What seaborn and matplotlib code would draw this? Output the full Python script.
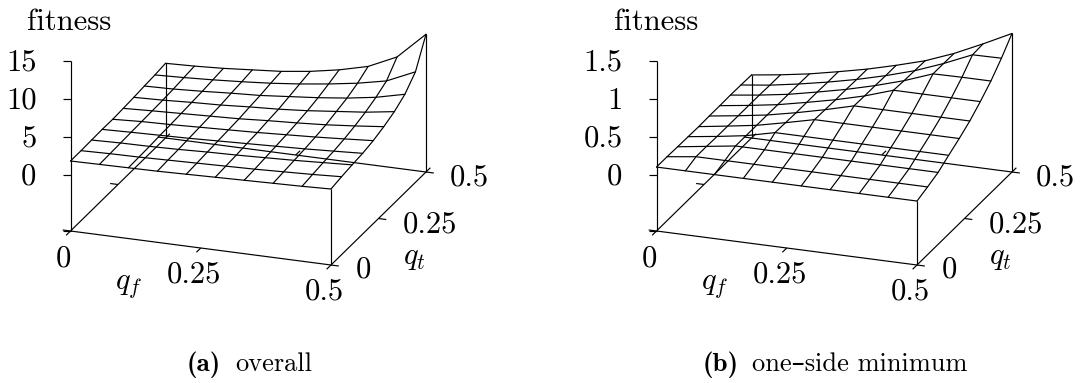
import numpy as np
import pandas as pd
import matplotlib
matplotlib.use("Agg")
import matplotlib.pyplot as plt
import seaborn as sns

qf_values = [0, 0.5 / 9, 1 / 9, 1.5 / 9, 2 / 9, 2.5 / 9, 3 / 9, 3.5 / 9, 4 / 9, 0.5]
qt_values = list(qf_values)

overall = [
    [1.85, 1.90, 1.95, 2.00, 2.10, 2.20, 2.30, 2.40, 2.50, 2.64],
    [1.85, 1.95, 2.00, 2.10, 2.20, 2.30, 2.40, 2.55, 2.70, 2.90],
    [1.89, 2.00, 2.05, 2.15, 2.30, 2.40, 2.55, 2.70, 2.90, 3.10],
    [1.93, 2.05, 2.15, 2.25, 2.40, 2.55, 2.70, 2.85, 3.05, 3.26],
    [1.90, 2.10, 2.20, 2.35, 2.50, 2.65, 2.85, 3.05, 3.30, 3.57],
    [1.98, 2.15, 2.30, 2.45, 2.60, 2.85, 3.05, 3.30, 3.65, 4.05],
    [2.07, 2.20, 2.40, 2.55, 2.80, 3.00, 3.30, 3.70, 4.10, 4.67],
    [2.20, 2.30, 2.50, 2.75, 2.95, 3.30, 3.65, 4.10, 4.70, 5.60],
    [2.30, 2.45, 2.65, 2.90, 3.20, 3.60, 4.10, 4.70, 5.50, 7.20],
    [2.47, 2.60, 2.80, 3.10, 3.40, 3.90, 4.60, 5.55, 7.30, 10.80],
]
one_side = [
    [.105, .105, .105, .105, .105, .105, .105, .105, .105, .105],
    [.105, .155, .155, .155, .155, .155, .155, .155, .155, .155],
    [.100, .155, .210, .210, .210, .210, .210, .210, .210, .210],
    [.097, .150, .210, .300, .300, .300, .300, .300, .300, .300],
    [.093, .150, .210, .295, .385, .385, .385, .385, .385, .385],
    [.097, .150, .210, .290, .380, .480, .480, .480, .480, .480],
    [.097, .150, .210, .290, .375, .475, .600, .600, .600, .600],
    [.100, .150, .210, .290, .375, .475, .590, .730, .735, .735],
    [.097, .145, .210, .285, .370, .470, .585, .730, .895, .900],
    [.093, .145, .207, .286, .370, .470, .580, .727, .903, 1.090],
]
z_ticks_a = [0, 5, 10, 15]
z_labels_a = ["0", "5", "10", "15"]
z_ticks_b = [0, 0.5, 1, 1.5]
z_labels_b = ["0", "0.5", "1", "1.5"]
plane_ticks = [0, 0.25, 0.5]
plane_labels = ["0", "0.25", "0.5"]

sns.set_theme(style="white")
plt.rcParams["font.family"] = ["cmr10", "DejaVu Sans"]
plt.rcParams["mathtext.fontset"] = "cm"
plt.rcParams["axes.formatter.use_mathtext"] = True

W, H = 1082, 383
FS = 22
LW = 0.85
fig = plt.figure(figsize=(W / 100, H / 100), dpi=100)


def panel(left, width, table, zt, zl, scale, caption_b, caption, cap_xb, cap_x, fitness_x):
    ax = fig.add_axes([left / W, 0, width / W, 1])
    ax.set_xlim(0, width)
    ax.set_ylim(H, 0)
    ax.axis("off")
    x0 = 70.5
    y0 = 231.0
    zero_h = 56.0

    def sx(qf, qt):
        return x0 + 521.0 * np.asarray(qf) + 190.0 * np.asarray(qt)

    def sy(qf, qt, z=None):
        h = 0.0 if z is None else zero_h + np.asarray(z) * scale
        return y0 + 68.0 * np.asarray(qf) - 186.0 * np.asarray(qt) - h

    rows = []
    for j, qt in enumerate(qt_values):
        for i, qf in enumerate(qf_values):
            z = table[j][i]
            rows.append(dict(line=f"r{j}", order=i, x=sx(qf, qt), y=sy(qf, qt, z)))
            rows.append(dict(line=f"c{i}", order=j, x=sx(qf, qt), y=sy(qf, qt, z)))
    surf = pd.DataFrame(rows)
    sns.lineplot(data=surf, x="x", y="y", units="line", estimator=None, sort=False,
                 color="black", lw=LW, ax=ax, legend=False)
    ax.set_xlabel("")
    ax.set_ylabel("")

    kw = dict(color="black", lw=LW, solid_capstyle="butt", clip_on=False)
    # base parallelogram
    for a, b in [((0, 0), (.5, 0)), ((.5, 0), (.5, .5)), ((.5, .5), (0, .5)), ((0, .5), (0, 0))]:
        ax.plot([sx(*a), sx(*b)], [sy(*a), sy(*b)], **kw)
    # verticals
    ax.plot([sx(0, 0)] * 2, [sy(0, 0), sy(0, 0, zt[-1])], **kw)
    ax.plot([sx(0, .5)] * 2, [sy(0, .5), sy(0, .5, table[9][0])], **kw)
    ax.plot([sx(.5, 0)] * 2, [sy(.5, 0), sy(.5, 0, table[0][9])], **kw)
    ax.plot([sx(.5, .5)] * 2, [sy(.5, .5), sy(.5, .5, table[9][9])], **kw)
    # z ticks
    for t, lab in zip(zt, zl):
        ax.plot([x0 - 8, x0], [sy(0, 0, t)] * 2, **kw)
        ax.text(36.5, sy(0, 0, t) + 9.5, lab, ha="right", va="baseline", fontsize=FS, color="black")
    ax.plot([x0 - 8, x0], [y0, y0], **kw)
    # plane ticks
    for t in plane_ticks:
        ax.plot([sx(t, 0), sx(t, -0.023)], [sy(t, 0), sy(t, -0.023)], **kw)
        ax.plot([sx(t, .5), sx(t, .523)], [sy(t, .5), sy(t, .523)], **kw)
        ax.plot([sx(0, t), sx(-0.015, t)], [sy(0, t), sy(-0.015, t)], **kw)
        ax.plot([sx(.5, t), sx(.515, t)], [sy(.5, t), sy(.515, t)], **kw)
    for t, lab, (px, py) in zip(plane_ticks, plane_labels, [(63, 266.5), (193.5, 282.5), (324, 299)]):
        ax.text(px, py, lab, ha="center", va="baseline", fontsize=FS, color="black")
    for t, lab, (px, py) in zip(plane_ticks, plane_labels, [(363, 278), (430, 232.5), (469.5, 186)]):
        ax.text(px, py, lab, ha="center", va="baseline", fontsize=FS, color="black")
    ax.text(129, 289, r"$q_f$", ha="center", va="baseline", fontsize=FS, color="black")
    ax.text(414, 263.5, r"$q_t$", ha="center", va="baseline", fontsize=FS, color="black")
    ax.text(fitness_x, 30, "fitness", ha="left", va="baseline", fontsize=FS, color="black")
    ax.text(cap_xb, 371, caption_b, ha="left", va="baseline", fontsize=19.5, color="black",
            family="cmb10", weight="bold")
    ax.text(cap_x, 371, caption, ha="left", va="baseline", fontsize=19, color="black")


panel(0, 541, overall, z_ticks_a, z_labels_a, 7.57, "(a)", "overall", 187, 235, 27.5)
panel(586, 496, one_side, z_ticks_b, z_labels_b, 75.7, "(b)", "one\u2013side minimum", 117, 166, 28)

fig.savefig("out.png", dpi=100)
